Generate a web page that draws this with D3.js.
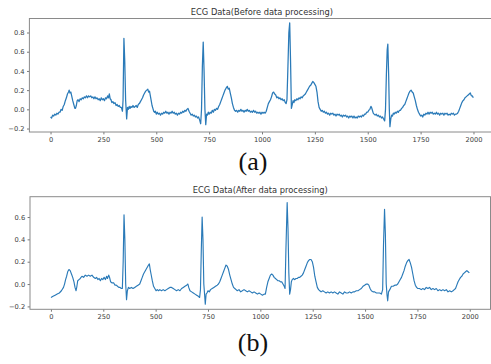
<!DOCTYPE html>
<html>
<head>
<meta charset="utf-8">
<script src="https://cdn.jsdelivr.net/npm/d3@7"></script>
<style>
  html, body { margin: 0; padding: 0; background: #fff; }
  svg { display: block; }
</style>
</head>
<body>
<div id="chart"></div>
<script>
// raw ECG trace: [sample index, value]
const beforeSeries = [
  [0,-0.08],[5,-0.09],[10,-0.06],[15,-0.07],[20,-0.05],[25,-0.06],[30,-0.04],[35,-0.05],[40,-0.03],[45,-0.03],
  [50,0.0],[55,-0.01],[60,0.03],[65,0.05],[70,0.09],[75,0.12],[80,0.16],[85,0.18],[88,0.20],[92,0.17],[96,0.18],
  [100,0.14],[105,0.09],[110,0.05],[115,0.01],[118,0.01],[122,0.04],[126,0.09],[130,0.10],[135,0.08],[140,0.11],
  [145,0.10],[150,0.12],[155,0.11],[160,0.13],[165,0.12],[170,0.14],[175,0.12],[180,0.14],[185,0.13],[190,0.14],
  [195,0.12],[200,0.13],[205,0.11],[210,0.13],[215,0.11],[220,0.12],[225,0.10],[230,0.11],[235,0.09],[240,0.12],
  [245,0.10],[250,0.11],[255,0.09],[260,0.12],[265,0.11],[270,0.14],[274,0.12],[278,0.16],[282,0.11],[286,0.10],
  [290,0.07],[295,0.08],[300,0.06],[305,0.07],[310,0.04],[315,0.05],[320,0.03],[325,0.04],[330,0.02],[335,0.02],
  [340,-0.02],[343,0.10],[347,0.74],[351,0.50],[355,0.10],[360,-0.10],[364,0.02],[368,0.0],[372,0.03],[376,0.01],
  [380,0.03],[385,0.02],[390,0.04],[395,0.02],[400,0.03],[405,0.04],[410,0.02],[415,0.05],[420,0.06],[425,0.08],
  [430,0.10],[435,0.12],[440,0.15],[445,0.17],[450,0.19],[455,0.20],[460,0.21],[464,0.18],[468,0.19],[472,0.14],
  [476,0.09],[480,0.04],[484,0.01],[488,-0.02],[492,-0.03],[496,-0.02],[500,-0.05],[505,-0.03],[510,-0.05],
  [515,-0.04],[520,-0.06],[525,-0.04],[530,-0.05],[535,-0.03],[540,-0.04],[545,-0.02],[550,-0.04],[555,-0.03],
  [560,-0.05],[565,-0.03],[570,-0.04],[575,-0.02],[580,-0.04],[585,-0.03],[590,-0.05],[595,-0.04],[600,-0.06],
  [605,-0.04],[610,-0.05],[615,-0.03],[620,-0.04],[625,-0.02],[630,-0.03],[635,-0.01],[640,-0.02],[645,0.0],
  [650,0.01],[655,-0.02],[660,-0.04],[665,-0.06],[670,-0.05],[675,-0.07],[680,-0.06],[685,-0.08],[690,-0.07],
  [695,-0.09],[700,-0.08],[705,-0.11],[710,-0.15],[714,0.0],[718,0.45],[722,0.70],[726,0.40],[730,0.0],[734,-0.16],
  [738,-0.05],[742,-0.06],[746,-0.03],[750,-0.05],[755,-0.03],[760,-0.04],[765,-0.01],[770,-0.03],[775,0.0],
  [780,-0.01],[785,0.01],[790,0.0],[795,0.03],[800,0.05],[805,0.08],[810,0.11],[815,0.14],[820,0.17],[825,0.20],
  [830,0.22],[836,0.24],[840,0.21],[845,0.22],[850,0.17],[855,0.12],[860,0.06],[865,0.02],[870,-0.01],[875,-0.02],
  [880,-0.01],[885,-0.03],[890,-0.01],[895,-0.02],[900,0.0],[905,-0.02],[910,-0.01],[915,-0.03],[920,-0.01],
  [925,-0.02],[930,0.0],[935,-0.02],[940,-0.01],[945,-0.03],[950,-0.02],[955,-0.03],[960,-0.01],[965,-0.03],
  [970,-0.02],[975,-0.04],[980,-0.03],[985,-0.04],[990,-0.03],[995,-0.05],[1000,-0.03],[1005,-0.04],[1010,-0.03],
  [1015,-0.04],[1020,-0.02],[1025,0.02],[1030,0.06],[1035,0.08],[1040,0.10],[1045,0.13],[1050,0.17],[1055,0.18],
  [1060,0.16],[1065,0.15],[1070,0.12],[1075,0.13],[1080,0.11],[1085,0.12],[1090,0.10],[1095,0.11],[1100,0.09],
  [1105,0.10],[1110,0.07],[1114,0.06],[1118,0.10],[1122,0.40],[1127,0.80],[1131,0.90],[1135,0.50],[1139,0.01],
  [1143,0.05],[1147,0.09],[1151,0.07],[1155,0.10],[1160,0.09],[1165,0.11],[1170,0.10],[1175,0.12],[1180,0.11],
  [1185,0.13],[1190,0.12],[1195,0.14],[1200,0.15],[1205,0.16],[1210,0.18],[1215,0.20],[1220,0.22],[1225,0.24],
  [1230,0.25],[1235,0.27],[1240,0.29],[1245,0.28],[1250,0.26],[1255,0.24],[1260,0.18],[1265,0.08],[1270,0.02],
  [1275,0.0],[1280,-0.02],[1285,-0.01],[1290,-0.03],[1295,-0.02],[1300,-0.04],[1305,-0.03],[1310,-0.05],
  [1315,-0.04],[1320,-0.06],[1325,-0.04],[1330,-0.05],[1335,-0.04],[1340,-0.06],[1345,-0.05],[1350,-0.07],
  [1355,-0.05],[1360,-0.06],[1365,-0.05],[1370,-0.07],[1375,-0.06],[1380,-0.08],[1385,-0.06],[1390,-0.07],
  [1395,-0.06],[1400,-0.08],[1405,-0.07],[1410,-0.09],[1415,-0.07],[1420,-0.08],[1425,-0.07],[1430,-0.09],
  [1435,-0.07],[1440,-0.09],[1445,-0.08],[1450,-0.09],[1455,-0.07],[1460,-0.08],[1465,-0.07],[1470,-0.08],
  [1475,-0.06],[1480,-0.07],[1485,-0.05],[1490,-0.05],[1495,-0.03],[1500,-0.03],[1505,-0.01],[1510,0.0],
  [1515,0.03],[1518,0.02],[1522,-0.01],[1526,-0.04],[1530,-0.05],[1535,-0.06],[1540,-0.05],[1545,-0.07],
  [1550,-0.06],[1555,-0.08],[1560,-0.07],[1565,-0.09],[1570,-0.08],[1575,-0.10],[1580,-0.12],[1584,0.0],
  [1588,0.35],[1592,0.62],[1595,0.68],[1599,0.35],[1602,0.0],[1605,-0.18],[1609,-0.10],[1613,-0.06],[1617,-0.07],
  [1621,-0.04],[1625,-0.05],[1630,-0.03],[1635,-0.04],[1640,-0.02],[1645,-0.03],[1650,-0.01],[1655,-0.01],
  [1660,0.01],[1665,0.02],[1670,0.04],[1675,0.05],[1680,0.08],[1685,0.11],[1690,0.14],[1695,0.17],[1700,0.19],
  [1705,0.20],[1710,0.18],[1715,0.17],[1720,0.13],[1725,0.09],[1730,0.04],[1735,0.0],[1740,-0.03],[1745,-0.05],
  [1750,-0.07],[1755,-0.06],[1760,-0.08],[1765,-0.05],[1770,-0.06],[1775,-0.04],[1780,-0.05],[1785,-0.03],
  [1790,-0.05],[1795,-0.03],[1800,-0.04],[1805,-0.03],[1810,-0.05],[1815,-0.04],[1820,-0.05],[1825,-0.03],
  [1830,-0.05],[1835,-0.04],[1840,-0.06],[1845,-0.04],[1850,-0.05],[1855,-0.04],[1860,-0.06],[1865,-0.04],
  [1870,-0.05],[1875,-0.04],[1880,-0.06],[1885,-0.05],[1890,-0.06],[1895,-0.04],[1900,-0.05],[1905,-0.04],
  [1910,-0.06],[1915,-0.05],[1920,-0.05],[1925,-0.04],[1930,-0.02],[1935,0.01],[1940,0.04],[1945,0.07],
  [1950,0.09],[1955,0.10],[1960,0.12],[1965,0.13],[1970,0.14],[1975,0.15],[1980,0.16],[1985,0.17],[1990,0.14],
  [1995,0.14],[1999,0.12]
];

// filtered trace
const afterSeries = [
  [0,-0.12],[10,-0.11],[20,-0.10],[30,-0.09],[40,-0.08],[50,-0.06],[60,-0.03],[65,0.0],[70,0.04],[75,0.07],
  [80,0.11],[86,0.13],[92,0.12],[98,0.09],[104,0.06],[110,0.02],[115,-0.03],[120,-0.06],[124,-0.02],[128,0.03],
  [134,0.04],[140,0.05],[148,0.07],[156,0.06],[164,0.08],[172,0.07],[180,0.08],[188,0.07],[196,0.08],[204,0.06],
  [212,0.05],[218,0.06],[224,0.04],[230,0.05],[236,0.03],[242,0.05],[248,0.04],[254,0.06],[260,0.04],[266,0.07],
  [270,0.05],[276,0.08],[280,0.06],[285,0.02],[292,0.01],[300,0.01],[306,-0.01],[312,-0.01],[318,-0.02],
  [324,-0.03],[330,-0.03],[336,-0.04],[341,-0.04],[345,0.20],[349,0.62],[353,0.40],[357,0.0],[361,-0.14],
  [365,-0.06],[370,-0.03],[376,-0.04],[384,-0.03],[392,-0.04],[400,-0.03],[408,-0.02],[416,-0.01],[424,0.0],
  [430,0.03],[436,0.06],[442,0.09],[448,0.11],[454,0.13],[460,0.15],[466,0.17],[470,0.18],[474,0.13],[478,0.09],
  [484,0.03],[490,-0.02],[496,-0.04],[502,-0.06],[508,-0.05],[514,-0.06],[520,-0.05],[528,-0.06],[536,-0.05],
  [544,-0.06],[552,-0.05],[560,-0.04],[568,-0.03],[576,-0.03],[584,-0.04],[592,-0.05],[600,-0.06],[608,-0.05],
  [616,-0.06],[624,-0.04],[632,-0.03],[640,-0.02],[648,-0.01],[654,0.0],[658,-0.03],[664,-0.06],[672,-0.07],
  [680,-0.08],[688,-0.09],[696,-0.10],[704,-0.11],[710,-0.12],[714,-0.05],[718,0.30],[722,0.60],[726,0.40],
  [730,0.0],[734,-0.10],[737,-0.18],[741,-0.09],[745,-0.08],[750,-0.06],[756,-0.07],[762,-0.05],[770,-0.04],
  [778,-0.03],[786,-0.02],[794,-0.01],[800,0.0],[806,0.02],[812,0.05],[818,0.08],[824,0.11],[830,0.14],
  [836,0.17],[842,0.16],[848,0.13],[854,0.08],[860,0.04],[866,0.0],[872,-0.03],[878,-0.04],[884,-0.05],
  [890,-0.06],[898,-0.05],[906,-0.07],[914,-0.06],[922,-0.05],[930,-0.06],[938,-0.07],[946,-0.06],[954,-0.07],
  [962,-0.08],[970,-0.07],[978,-0.08],[986,-0.09],[994,-0.08],[1002,-0.09],[1010,-0.10],[1018,-0.09],
  [1024,-0.09],[1030,-0.03],[1036,0.02],[1042,0.05],[1048,0.08],[1054,0.09],[1060,0.08],[1066,0.06],
  [1072,0.05],[1078,0.04],[1084,0.03],[1090,0.03],[1096,0.02],[1102,0.02],[1108,0.0],[1114,-0.02],[1118,-0.04],
  [1122,0.30],[1128,0.73],[1132,0.50],[1136,0.10],[1140,-0.09],[1144,-0.05],[1148,0.02],[1152,0.04],[1158,0.05],
  [1164,0.04],[1170,0.05],[1176,0.05],[1182,0.06],[1188,0.06],[1194,0.07],[1200,0.08],[1206,0.10],[1212,0.13],
  [1218,0.16],[1224,0.19],[1230,0.21],[1236,0.22],[1242,0.22],[1248,0.20],[1254,0.15],[1260,0.07],[1266,0.02],
  [1272,-0.03],[1278,-0.05],[1284,-0.06],[1290,-0.07],[1298,-0.06],[1306,-0.07],[1314,-0.08],[1322,-0.07],
  [1330,-0.08],[1338,-0.07],[1346,-0.08],[1354,-0.07],[1362,-0.08],[1370,-0.09],[1378,-0.07],[1386,-0.08],
  [1394,-0.09],[1402,-0.07],[1410,-0.08],[1418,-0.08],[1426,-0.07],[1434,-0.08],[1442,-0.07],[1450,-0.07],
  [1458,-0.06],[1466,-0.06],[1474,-0.05],[1482,-0.04],[1490,-0.02],[1498,-0.01],[1506,0.0],[1512,0.0],
  [1518,-0.01],[1524,-0.04],[1530,-0.06],[1538,-0.07],[1546,-0.07],[1554,-0.08],[1562,-0.08],[1570,-0.08],
  [1578,-0.09],[1584,-0.05],[1588,0.35],[1593,0.67],[1597,0.45],[1601,0.0],[1605,-0.10],[1608,-0.15],
  [1612,-0.07],[1618,-0.05],[1626,-0.02],[1634,-0.02],[1642,-0.01],[1650,-0.01],[1656,0.0],[1662,0.02],
  [1668,0.04],[1674,0.06],[1680,0.09],[1686,0.12],[1692,0.16],[1698,0.19],[1704,0.21],[1710,0.22],[1716,0.19],
  [1722,0.15],[1728,0.09],[1734,0.03],[1740,-0.01],[1746,-0.03],[1752,-0.04],[1760,-0.04],[1768,-0.05],
  [1776,-0.04],[1784,-0.05],[1792,-0.03],[1800,-0.04],[1808,-0.03],[1816,-0.05],[1824,-0.04],[1832,-0.05],
  [1840,-0.04],[1848,-0.06],[1856,-0.05],[1864,-0.06],[1872,-0.05],[1880,-0.06],[1888,-0.05],[1896,-0.07],
  [1904,-0.06],[1912,-0.07],[1920,-0.06],[1926,-0.05],[1932,-0.04],[1938,-0.01],[1944,0.02],[1950,0.04],
  [1956,0.06],[1962,0.07],[1968,0.09],[1974,0.10],[1980,0.11],[1986,0.12],[1992,0.11],[1998,0.10]
];

const xTicks = [0, 250, 500, 750, 1000, 1250, 1500, 1750, 2000];
const beforeYTicks = [-0.2, 0.0, 0.2, 0.4, 0.6, 0.8];
const afterYTicks = [-0.2, 0.0, 0.2, 0.4, 0.6];
const titles = ['ECG Data(Before data processing)', 'ECG Data(After data processing)'];
const captions = ['(a)', '(b)'];

const width = 491, height = 364;

const svg = d3.select('#chart').append('svg')
  .attr('width', width)
  .attr('height', height);

const panels = [
  { data: beforeSeries, yTicks: beforeYTicks, title: titles[0], caption: captions[0],
    left: 29.4, right: 494.4, top: 18.5, bottom: 132, yDomain: [-0.236, 0.946],
    titleY: 14.5, captionY: 170, lw: 1.25 },
  { data: afterSeries, yTicks: afterYTicks, title: titles[1], caption: captions[1],
    left: 30, right: 490.5, top: 196.7, bottom: 309.3, yDomain: [-0.226, 0.782],
    titleY: 192.5, captionY: 351, lw: 1.15 }
];

const fmt = d => d3.format('.1f')(d).replace('-', '\u2212');

panels.forEach(p => {
  const x = d3.scaleLinear()
    .domain([-99.95, 2098.95])
    .range([p.left, p.right]);

  const y = d3.scaleLinear()
    .domain(p.yDomain)
    .range([p.bottom, p.top]);

  const g = svg.append('g');

  const line = d3.line()
    .x(d => x(d[0]))
    .y(d => y(d[1]));

  g.append('path')
    .datum(p.data)
    .attr('fill', 'none')
    .attr('stroke', '#2a7ab8')
    .attr('stroke-width', p.lw)
    .attr('stroke-linejoin', 'round')
    .attr('d', line);

  // axes
  const xAxis = g.append('g')
    .attr('transform', `translate(0,${p.bottom})`)
    .call(d3.axisBottom(x).tickValues(xTicks).tickSize(2.4).tickPadding(2.4).tickFormat(d3.format('d')));

  const yAxis = g.append('g')
    .attr('transform', `translate(${p.left},0)`)
    .call(d3.axisLeft(y).tickValues(p.yTicks).tickSize(2.4).tickPadding(2.4).tickFormat(fmt));

  [xAxis, yAxis].forEach(a => {
    a.select('.domain').remove();
    a.selectAll('line').attr('stroke', '#555').attr('stroke-width', 0.8);
    a.selectAll('text')
      .attr('fill', '#3a3a3a')
      .style('font-family', 'DejaVu Sans, sans-serif')
      .style('font-size', '6.7px');
  });

  // frame
  g.append('rect')
    .attr('x', p.left)
    .attr('y', p.top)
    .attr('width', p.right - p.left)
    .attr('height', p.bottom - p.top)
    .attr('fill', 'none')
    .attr('stroke', '#8a8a8a')
    .attr('stroke-width', 1);

  g.append('text')
    .attr('x', (p.left + p.right) / 2)
    .attr('y', p.titleY)
    .attr('text-anchor', 'middle')
    .attr('fill', '#333')
    .style('font-family', 'DejaVu Sans, sans-serif')
    .style('font-size', '8.3px')
    .text(p.title);

  svg.append('text')
    .attr('x', 253)
    .attr('y', p.captionY)
    .attr('text-anchor', 'middle')
    .attr('fill', '#111')
    .style('font-family', 'Liberation Serif, Times New Roman, serif')
    .style('font-size', '26px')
    .text(p.caption);
});
</script>
</body>
</html>
